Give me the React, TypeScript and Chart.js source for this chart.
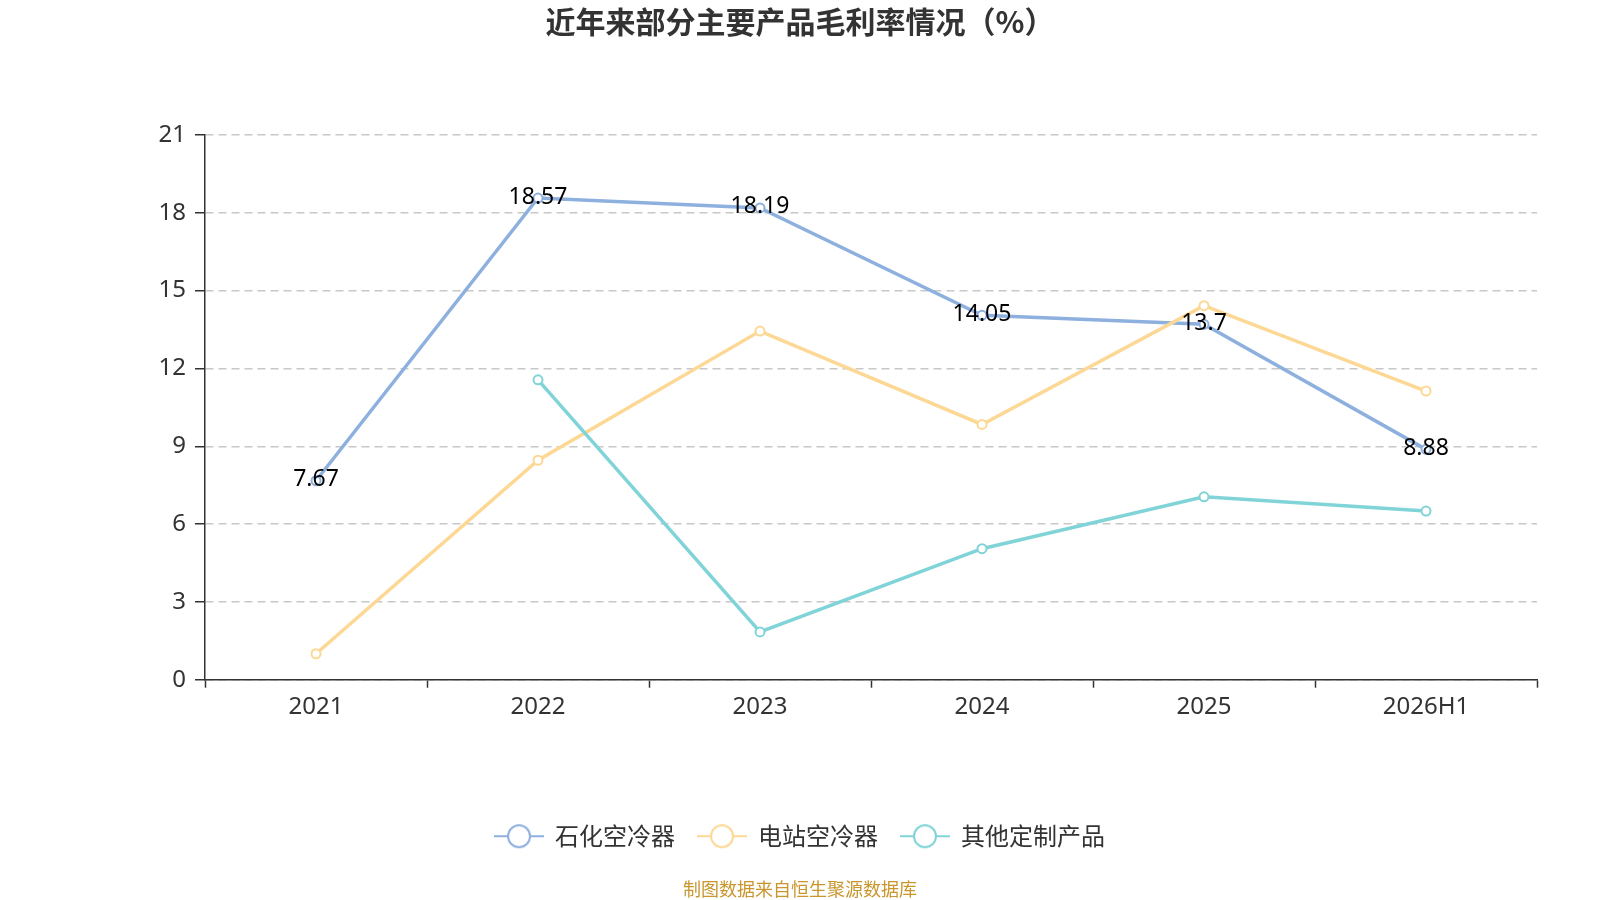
import React, { useEffect, useRef } from "react";
import { Chart, registerables } from "chart.js";

Chart.register(...registerables);

const categories = ["2021", "2022", "2023", "2024", "2025", "2026H1"];
const seriesNames = ["石化空冷器", "电站空冷器", "其他定制产品"];
const petroValues = [7.67, 18.57, 18.19, 14.05, 13.7, 8.88];
const powerValues = [1.0, 8.46, 13.44, 9.84, 14.42, 11.13];
const otherValues = [null, 11.56, 1.84, 5.05, 7.05, 6.5];
const seriesColors = ["#8eb0de", "#fdd895", "#80d4d8"];
const yTicksMin = 0;
const yTicksMax = 21;
const yTicksStep = 3;

const titleText = "近年来部分主要产品毛利率情况（%）";
const footerText = "制图数据来自恒生聚源数据库";

const CJK = '"Noto Sans CJK SC", "Noto Sans", sans-serif';
const LATIN = '"Noto Sans", "Noto Sans CJK SC", sans-serif';

function makeIcon(color: string): HTMLCanvasElement {
  const c = document.createElement("canvas");
  c.width = 50;
  c.height = 28;
  const g = c.getContext("2d")!;
  g.strokeStyle = color;
  g.lineWidth = 2;
  g.beginPath();
  g.moveTo(0, 14);
  g.lineTo(50, 14);
  g.stroke();
  g.beginPath();
  g.arc(25, 14, 11, 0, Math.PI * 2);
  g.fillStyle = "#fff";
  g.fill();
  g.stroke();
  return c;
}

const valueLabels = {
  id: "valueLabels",
  afterDatasetsDraw(chart: any) {
    const ctx = chart.ctx;
    const meta = chart.getDatasetMeta(0);
    ctx.save();
    ctx.font = `23px ${LATIN}`;
    ctx.fillStyle = "#000";
    ctx.textAlign = "center";
    ctx.textBaseline = "middle";
    meta.data.forEach((pt: any, i: number) => {
      const v = petroValues[i];
      if (v == null) return;
      ctx.fillText(String(v), pt.x, pt.y - 1);
    });
    ctx.restore();
  },
};

export default function App() {
  const ref = useRef<HTMLCanvasElement | null>(null);

  useEffect(() => {
    if (!ref.current) return;
    const icons = seriesColors.map(makeIcon);
    const allValues = [petroValues, powerValues, otherValues];
    const orders = [2, 1, 0];
    const chart = new Chart(ref.current, {
      type: "line",
      data: {
        labels: categories,
        datasets: allValues.map((vals, i) => ({
          label: seriesNames[i],
          data: vals,
          borderColor: seriesColors[i],
          backgroundColor: "#ffffff",
          pointBackgroundColor: "#ffffff",
          pointBorderColor: seriesColors[i],
          pointBorderWidth: 2,
          pointRadius: 4.5,
          borderWidth: 3.5,
          tension: 0,
          order: orders[i],
        })),
      },
      options: {
        animation: false,
        responsive: false,
        devicePixelRatio: 1,
        layout: { padding: { left: 63, right: 63, top: 0, bottom: 0 } },
        scales: {
          x: {
            offset: true,
            grid: {
              offset: true,
              drawOnChartArea: false,
              drawTicks: true,
              tickLength: 8,
              tickColor: "#333",
              tickWidth: 1.5,
            },
            border: { display: true, color: "#333", width: 1.5 },
            ticks: {
              color: "#333",
              font: { size: 24, family: LATIN },
              padding: 5,
              maxRotation: 0,
            },
            afterFit: (scale: any) => {
              scale.height = 121.5;
            },
          },
          y: {
            min: yTicksMin,
            max: yTicksMax,
            ticks: {
              stepSize: yTicksStep,
              color: "#333",
              font: { size: 24, family: LATIN },
              padding: 9,
            },
            grid: {
              color: "#c8c8c8",
              lineWidth: 1.5,
              tickLength: 10,
              tickColor: "#333",
              tickWidth: 1.5,
              tickBorderDash: [],
            },
            border: { display: true, color: "#333", width: 1.5, dash: [8, 5] },
            afterFit: (scale: any) => {
              scale.width = 142;
            },
          },
        },
        plugins: {
          title: {
            display: true,
            text: titleText,
            color: "#333",
            font: { size: 30, weight: "bold", family: CJK },
            padding: { top: 4, bottom: 95 },
          },
          subtitle: {
            display: true,
            position: "bottom",
            text: footerText,
            color: "#c8962d",
            font: { size: 18, family: CJK },
            padding: { top: 20.2, bottom: 0 },
          },
          legend: {
            display: true,
            position: "bottom",
            labels: {
              usePointStyle: true,
              pointStyleWidth: 48,
              padding: 23,
              color: "#333",
              font: { size: 24, family: CJK },
              generateLabels: (c: any) => {
                const items = (Chart.defaults.plugins.legend.labels as any).generateLabels(c);
                items.sort((a: any, b: any) => a.datasetIndex - b.datasetIndex);
                items.forEach((it: any) => {
                  it.pointStyle = icons[it.datasetIndex];
                });
                return items;
              },
            },
          },
          tooltip: { enabled: false },
        },
      },
      plugins: [valueLabels],
    } as any);
    return () => chart.destroy();
  }, []);

  return (
    <div style={{ position: "absolute", left: 0, top: 0, width: 1600, height: 900, background: "#fff" }}>
      <canvas ref={ref} width={1600} height={900} style={{ width: 1600, height: 900, display: "block" }} />
    </div>
  );
}
